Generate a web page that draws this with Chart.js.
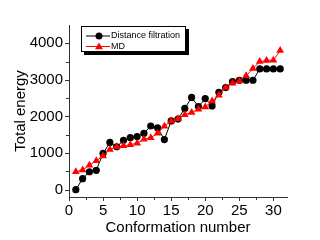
<!DOCTYPE html>
<html><head><meta charset="utf-8">
<script src="https://cdn.jsdelivr.net/npm/chart.js@4"></script>
<style>html,body{margin:0;padding:0;background:#fff;}#wrap{width:320px;height:240px;}</style>
</head><body><div id="wrap"><canvas id="c" width="320" height="240"></canvas></div>
<script>
const conformations = [1,2,3,4,5,6,7,8,9,10,11,12,13,14,15,16,17,18,19,20,21,22,23,24,25,26,27,28,29,30,31];
const distanceFiltration = [0,300,490,530,990,1290,1170,1350,1420,1450,1540,1740,1690,1370,1880,1930,2220,2520,2270,2490,2290,2660,2790,2950,2990,2990,2990,3300,3300,3300,3300];
const md = [490,540,670,790,920,1100,1170,1200,1230,1270,1380,1420,1540,1730,1880,1940,2050,2110,2200,2260,2420,2580,2790,2910,2970,3110,3310,3500,3530,3540,3800];
const xTickLabels = [0,5,10,15,20,25,30];
const xMinorTicks = [2.5,7.5,12.5,17.5,22.5,27.5];
const yTickLabels = [0,1000,2000,3000,4000];
const yMinorTicks = [500,1500,2500,3500];
const seriesNames = ['Distance filtration','MD'];

Chart.defaults.font.family = "'Liberation Sans', Arial, sans-serif";
Chart.defaults.color = '#000';

const tickPlugin = {
  id: 'tickMarks',
  afterDraw(chart) {
    const ctx = chart.ctx;
    const xs = chart.scales.x, ys = chart.scales.y;
    ctx.save();
    ctx.strokeStyle = '#333';
    ctx.lineWidth = 1;
    ctx.beginPath();
    xs.ticks.forEach(t => {
      const px = Math.round(xs.getPixelForValue(t.value)) + 0.5;
      const major = xTickLabels.includes(t.value);
      ctx.moveTo(px, xs.top); ctx.lineTo(px, xs.top + (major ? 4 : 3));
    });
    ys.ticks.forEach(t => {
      const py = Math.round(ys.getPixelForValue(t.value)) + 0.5;
      const major = yTickLabels.includes(t.value);
      ctx.moveTo(ys.right, py); ctx.lineTo(ys.right - (major ? 4 : 3), py);
    });
    ctx.stroke();
    ctx.restore();
  }
};

const legendPlugin = {
  id: 'boxLegend',
  afterDraw(chart) {
    const ctx = chart.ctx;
    const bx = 81, by = 26, bw = 105, bh = 26;
    ctx.save();
    ctx.fillStyle = '#000';
    ctx.fillRect(bx + 3, by + 3, bw, bh);
    ctx.fillStyle = '#fff';
    ctx.fillRect(bx, by, bw, bh);
    ctx.strokeStyle = '#000';
    ctx.lineWidth = 1;
    ctx.strokeRect(bx + 0.5, by + 0.5, bw - 1, bh - 1);
    chart.data.datasets.forEach((ds, i) => {
      const y = by + 10 + i * 10.5;
      ctx.strokeStyle = ds.borderColor;
      ctx.lineWidth = 1;
      ctx.beginPath(); ctx.moveTo(86, y); ctx.lineTo(110, y); ctx.stroke();
      ctx.fillStyle = ds.pointBackgroundColor;
      ctx.beginPath();
      if (ds.pointStyle === 'triangle') {
        const r = 4;
        ctx.moveTo(99, y - r); ctx.lineTo(99 + r, y + r * 0.7); ctx.lineTo(99 - r, y + r * 0.7); ctx.closePath();
      } else {
        ctx.arc(99, y, 3.5, 0, Math.PI * 2);
      }
      ctx.fill();
      ctx.fillStyle = '#000';
      ctx.font = "9px 'Liberation Sans', Arial, sans-serif";
      ctx.textBaseline = 'middle';
      ctx.fillText(ds.label, 111, y);
    });
    ctx.restore();
  }
};

new Chart(document.getElementById('c'), {
  type: 'line',
  data: {
    datasets: [
      {
        label: seriesNames[0],
        data: conformations.map((x, i) => ({x, y: distanceFiltration[i]})),
        borderColor: '#000', backgroundColor: '#000', pointBackgroundColor: '#000',
        borderWidth: 1, pointRadius: 3.6, pointStyle: 'circle', pointBorderWidth: 0,
        order: 1
      },
      {
        label: seriesNames[1],
        data: conformations.map((x, i) => ({x, y: md[i]})),
        borderColor: '#ff0000', backgroundColor: '#ff0000', pointBackgroundColor: '#ff0000',
        borderWidth: 1, pointRadius: 4.5, pointStyle: 'triangle', pointBorderWidth: 0,
        order: 0
      }
    ]
  },
  options: {
    responsive: false,
    animation: false,
    devicePixelRatio: 1,
    layout: { padding: { left: 0, top: 25, right: 33, bottom: 0 } },
    plugins: { legend: { display: false }, tooltip: { enabled: false } },
    scales: {
      x: {
        type: 'linear', min: 0, max: 32,
        afterFit(s) { s.height = 43; },
        afterBuildTicks(s) { s.ticks = xTickLabels.concat(xMinorTicks).sort((a,b)=>a-b).map(v => ({value: v})); },
        ticks: { padding: 5, maxRotation: 0, minRotation: 0, autoSkip: false, includeBounds: false,
          font: { size: 15 },
          callback: v => xTickLabels.includes(v) ? String(v) : '' },
        grid: { drawOnChartArea: false, drawTicks: false },
        border: { display: true, color: '#333', width: 1 },
        title: { display: true, text: 'Conformation number', font: { size: 15 }, padding: { top: 0, bottom: 3 } }
      },
      y: {
        type: 'linear', min: -200, max: 4500,
        afterFit(s) { s.width = 69; },
        afterBuildTicks(s) { s.ticks = yTickLabels.concat(yMinorTicks).sort((a,b)=>a-b).map(v => ({value: v})); },
        ticks: { padding: 6, autoSkip: false, includeBounds: false,
          font: { size: 15 },
          callback: v => yTickLabels.includes(v) ? String(v) : '' },
        grid: { drawOnChartArea: false, drawTicks: false },
        border: { display: true, color: '#333', width: 1 },
        title: { display: true, text: 'Total energy', font: { size: 15 }, padding: { top: 12, bottom: 0 } }
      }
    }
  },
  plugins: [tickPlugin, legendPlugin]
});
</script>
</body></html>
